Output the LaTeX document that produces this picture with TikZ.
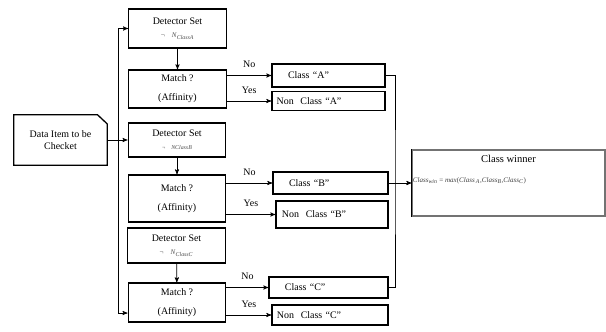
\documentclass[tikz,border=0pt]{standalone}
\usepackage{fontspec}
\setmainfont{Liberation Serif}
\usetikzlibrary{arrows}

\begin{document}
\begin{tikzpicture}[->,>=stealth',x=0.03cm,y=-0.03cm,semithick,
  every node/.style={font=\fontsize{8.5}{10.2}\selectfont},
  stage/.style={draw,line width=1.1pt,minimum width=2.93cm,align=center,inner sep=0pt},
  result/.style={draw,line width=1.1pt,align=left,inner ysep=0pt},
  lbl/.style={above=3pt}]
  \useasboundingbox (0,0) rectangle (606,332);

  % input item
  \node[minimum width=2.79cm,minimum height=1.5cm,align=center] (data) at (60.5,140) {Data Item to be\\Checket};
  \draw[-,line width=1.1pt] (data.south west) -- (data.north west) -- ([xshift=-8.5pt]data.north east)
    -- ([yshift=-8pt]data.north east) -- (data.south east) -- cycle;

  % detector sets and matching
  \node[stage,minimum height=1.17cm] (detA) at (177.5,28.5) {Detector Set\\[1pt]{\color{black!70}\fontsize{6}{7}\selectfont ¬\quad\textit{N}\textsubscript{\textit{ClassA}}}};
  \node[stage,minimum height=1.14cm] (matchA) at (177.5,89) {Match ?\\[6pt](Affinity)};
  \node[stage,minimum height=1.02cm] (detB) at (177,140) {Detector Set\\[1pt]{\color{black!70}\fontsize{5}{6}\selectfont ¬\quad\textit{NClassB}}};
  \node[stage,minimum height=1.41cm] (matchB) at (177,198.5) {Match ?\\[6pt](Affinity)};
  \node[stage,minimum height=1.05cm] (detC) at (176.5,245.5) {Detector Set\\[1pt]{\color{black!70}\fontsize{6}{7}\selectfont ¬\quad\textit{N}\textsubscript{\textit{ClassC}}}};
  \node[stage,minimum height=1.17cm] (matchC) at (177,302.5) {Match ?\\[6pt](Affinity)};

  % results
  \node[result,inner xsep=0.48cm,text width=2.43cm,minimum height=0.69cm] (classA) at (328.5,75.5) {Class “A”};
  \node[result,inner xsep=0.14cm,text width=3.11cm,minimum height=0.55cm] (nonA) at (328.5,101) {Non~ Class “A”};
  \node[result,inner xsep=0.48cm,text width=2.49cm,minimum height=0.66cm] (classB) at (330.5,183) {Class “B”};
  \node[result,inner xsep=0.18cm,text width=3.0cm,minimum height=0.81cm] (nonB) at (332,214.5) {Non~ Class “B”};
  \node[result,inner xsep=0.48cm,text width=2.61cm,minimum height=0.63cm] (classC) at (328.5,287.5) {Class “C”};
  \node[result,inner xsep=0.15cm,text width=3.18cm,minimum height=0.6cm] (nonC) at (330,315) {Non~ Class “C”};

  % winner
  \node[draw=black!55,line width=1pt,minimum width=5.79cm,minimum height=1.98cm] (winner) at (508.5,183) {};
  \draw[-,line width=1.4pt] (winner.north west) -- (winner.south west);
  \node[anchor=north,font=\fontsize{9}{11}\selectfont] (wtitle) at ([yshift=-1pt]winner.north) {Class winner};
  \node[anchor=west,inner xsep=1pt,text=black!75,font=\fontsize{6}{7}\selectfont] (wformula) at ([yshift=2pt]winner.west)
    {\textit{Class}\textsubscript{\textit{win}} = \textit{max}(\textit{Class}\,\textsubscript{\textit{A}},\textit{Class}\textsubscript{\textit{B}},\textit{Class}\textsubscript{\textit{C}})};

  \coordinate (fork) at (118,140);
  \coordinate (bus) at (395,183);

  \path
  (data) edge (detB)
  (detA) edge (matchA)
  (detB) edge (matchB)
  (detC) edge (matchC)
  (classB) edge (winner);

  \draw (fork) |- (detA);
  \draw (fork) |- ([yshift=-9pt]matchC.west);

  \draw (matchA.east |- classA) -- node[lbl] {No} (classA);
  \draw (matchA.east |- nonA) -- node[lbl] {Yes} (nonA);
  \draw (matchB.east |- classB) -- node[lbl] {No} (classB);
  \draw (matchB.east |- nonB) -- node[lbl] {Yes} (nonB);
  \draw (matchC.east |- classC) -- node[lbl] {No} (classC);
  \draw (matchC.east |- nonC) -- node[lbl] {Yes} (nonC);

  \draw[-] (classA) -| (bus) |- (classC);
\end{tikzpicture}
\end{document}
